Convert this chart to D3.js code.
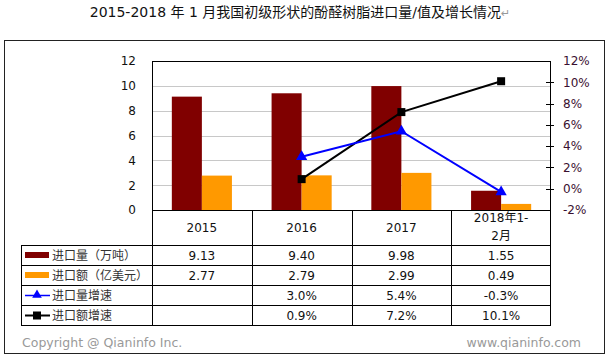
<!DOCTYPE html>
<html><head><meta charset="utf-8">
<script src="https://cdn.jsdelivr.net/npm/d3@7/dist/d3.min.js"></script>
<style>
body{margin:0;background:#fff;}
text{font-family:"DejaVu Sans","Noto Sans CJK SC",sans-serif;}
</style></head>
<body><svg id="c" width="610" height="357"></svg>
<script>
const categories = ["2015","2016","2017","2018年1-2月"];
const categoryLines = [["2015"],["2016"],["2017"],["2018年1-","2月"]];
const volume = [9.13, 9.40, 9.98, 1.55];
const value = [2.77, 2.79, 2.99, 0.49];
const volumeGrowth = [null, 3.0, 5.4, -0.3];
const valueGrowth = [null, 0.9, 7.2, 10.1];
const seriesNames = ["进口量（万吨）","进口额（亿美元）","进口量增速","进口额增速"];
const leftTicks = [0,2,4,6,8,10,12];
const rightTicks = [-2,0,2,4,6,8,10,12];
const title = "2015-2018 年 1 月我国初级形状的酚醛树脂进口量/值及增长情况";

const svg = d3.select("#c");
const L = 152, R = 551, T = 61, B = 210;
const c1 = "#800000", c2 = "#FF9900", c3 = "#0000FF", c4 = "#000000";

// outer frame
svg.append("rect").attr("x",4.5).attr("y",40.5).attr("width",600).attr("height",313)
  .attr("fill","none").attr("stroke","#222").attr("stroke-width",1);

// title
const tt = svg.append("text").attr("x",300).attr("y",17).attr("text-anchor","middle")
  .attr("font-size",14).attr("fill","#111");
tt.append("tspan").text(title);
tt.append("tspan").attr("fill","#999").attr("font-size",11).text("↵");

const x = d3.scaleBand().domain(categories).range([L,R]).paddingInner(0).paddingOuter(0);
const xs = d3.scaleBand().domain([0,1]).range([0,x.bandwidth()]).paddingInner(0).paddingOuter(0.66);
const y = d3.scaleLinear().domain([0,12]).range([B,T]);
const y2 = d3.scaleLinear().domain([-2,12]).range([B,T]);

// grid
svg.append("g").selectAll("line").data(leftTicks.filter(d=>d>0&&d<12)).join("line")
  .attr("x1",L).attr("x2",R).attr("y1",d=>Math.round(y(d))+0.5).attr("y2",d=>Math.round(y(d))+0.5)
  .attr("stroke","#c8c8c8");

// left axis
const la = svg.append("g").attr("transform",`translate(${L},0)`)
  .call(d3.axisLeft(y).tickValues(leftTicks).tickSize(0).tickPadding(16).tickFormat(d3.format("d")));
la.select(".domain").remove();
la.selectAll("text").attr("font-size",12).attr("fill","#111").attr("font-family",'"DejaVu Sans",sans-serif');

// right axis
const ra = svg.append("g").attr("transform",`translate(${R},0)`)
  .call(d3.axisRight(y2).tickValues(rightTicks).tickSize(0).tickPadding(12).tickFormat(d=>d+"%"));
ra.select(".domain").remove();
ra.selectAll("text").attr("font-size",12).attr("fill","#3a1030").attr("font-family",'"DejaVu Sans",sans-serif');
svg.append("g").selectAll("line").data(rightTicks.slice(1,-1)).join("line")
  .attr("x1",R-5).attr("x2",R+3).attr("y1",d=>Math.round(y2(d))+0.5).attr("y2",d=>Math.round(y2(d))+0.5)
  .attr("stroke","#000");

// bars
const g = svg.append("g");
g.selectAll(".b1").data(volume).join("rect")
  .attr("x",(d,i)=>x(categories[i])+xs(0)).attr("width",xs.bandwidth())
  .attr("y",d=>y(d)).attr("height",d=>B-y(d)).attr("fill",c1);
g.selectAll(".b2").data(value).join("rect")
  .attr("x",(d,i)=>x(categories[i])+xs(1)).attr("width",xs.bandwidth())
  .attr("y",d=>y(d)).attr("height",d=>B-y(d)).attr("fill",c2);

// plot frame
svg.append("rect").attr("x",L+0.5).attr("y",T+0.5).attr("width",R-L-1).attr("height",B-T)
  .attr("fill","none").attr("stroke","#000");

// lines
const cx = i => x(categories[i]) + x.bandwidth()/2;
const line = d3.line().defined(d=>d[1]!=null).x(d=>cx(d[0])).y(d=>y2(d[1]));
svg.append("path").datum(valueGrowth.map((v,i)=>[i,v])).attr("d",line)
  .attr("fill","none").attr("stroke",c4).attr("stroke-width",2);
svg.append("path").datum(volumeGrowth.map((v,i)=>[i,v])).attr("d",line)
  .attr("fill","none").attr("stroke",c3).attr("stroke-width",2);
svg.append("g").selectAll("rect").data(valueGrowth.map((v,i)=>[i,v]).filter(d=>d[1]!=null)).join("rect")
  .attr("x",d=>cx(d[0])-4).attr("y",d=>y2(d[1])-4).attr("width",8).attr("height",8).attr("fill",c4);
const tri = d3.symbol().type(d3.symbolTriangle).size(55);
svg.append("g").selectAll("path").data(volumeGrowth.map((v,i)=>[i,v]).filter(d=>d[1]!=null)).join("path")
  .attr("d",tri).attr("transform",d=>`translate(${cx(d[0])},${y2(d[1])})`).attr("fill",c3);

// table
const rowsY = [B, 245, 265, 285, 305, 325];
const TL = 21;
const tg = svg.append("g").attr("stroke","#000").attr("fill","none");
x.domain().forEach(c=>{
  tg.append("line").attr("x1",Math.round(x(c))+0.5).attr("x2",Math.round(x(c))+0.5).attr("y1",B).attr("y2",325).attr("stroke","#000");
});
tg.append("line").attr("x1",R-0.5).attr("x2",R-0.5).attr("y1",B).attr("y2",325);
tg.append("line").attr("x1",TL+0.5).attr("x2",TL+0.5).attr("y1",245).attr("y2",325);
rowsY.slice(1).forEach(yy=>{
  tg.append("line").attr("x1",TL).attr("x2",R).attr("y1",yy+0.5).attr("y2",yy+0.5);
});

// header
categoryLines.forEach((lines,i)=>{
  const t = svg.append("text").attr("x",cx(i)).attr("text-anchor","middle").attr("font-size",12).attr("fill","#111");
  if(lines.length===1){ t.attr("y",232).text(lines[0]); }
  else {
    t.append("tspan").attr("x",cx(i)).attr("y",222).text(lines[0]);
    t.append("tspan").attr("x",cx(i)).attr("y",240).text(lines[1]);
  }
});

// legend cells
const rowMid = i => (rowsY[i+1]+rowsY[i+2])/2;
svg.append("rect").attr("x",25).attr("y",rowMid(0)-3).attr("width",24).attr("height",6).attr("fill",c1);
svg.append("rect").attr("x",25).attr("y",rowMid(1)-3).attr("width",24).attr("height",6).attr("fill",c2);
svg.append("line").attr("x1",25).attr("x2",50).attr("y1",rowMid(2)+0.5).attr("y2",rowMid(2)+0.5).attr("stroke",c3).attr("stroke-width",1.5);
svg.append("path").attr("d",d3.symbol().type(d3.symbolTriangle).size(40)).attr("transform",`translate(37,${rowMid(2)})`).attr("fill",c3);
svg.append("line").attr("x1",25).attr("x2",50).attr("y1",rowMid(3)+0.5).attr("y2",rowMid(3)+0.5).attr("stroke",c4).attr("stroke-width",2);
svg.append("rect").attr("x",33).attr("y",rowMid(3)-3.5).attr("width",8).attr("height",8).attr("fill",c4);
seriesNames.forEach((n,i)=>{
  svg.append("text").attr("x",52).attr("y",rowMid(i)+4.5).attr("font-size",12).attr("fill","#333").text(n);
});

// values
const fmtV = d3.format(".2f");
const fmtP = d => d==null ? "" : d.toFixed(1)+"%";
[volume.map(fmtV), value.map(fmtV), volumeGrowth.map(fmtP), valueGrowth.map(fmtP)].forEach((row,r)=>{
  row.forEach((s,i)=>{
    svg.append("text").attr("x",cx(i)).attr("y",rowMid(r)+4.5).attr("text-anchor","middle")
      .attr("font-size",12).attr("fill","#111").text(s);
  });
});

// footer
svg.append("text").attr("x",22).attr("y",347).attr("font-size",12.5).attr("fill","#999").text("Copyright @ Qianinfo Inc.");
svg.append("text").attr("x",581).attr("y",347).attr("text-anchor","end").attr("font-size",12.5).attr("fill","#999").text("www.qianinfo.com");
</script></body></html>
